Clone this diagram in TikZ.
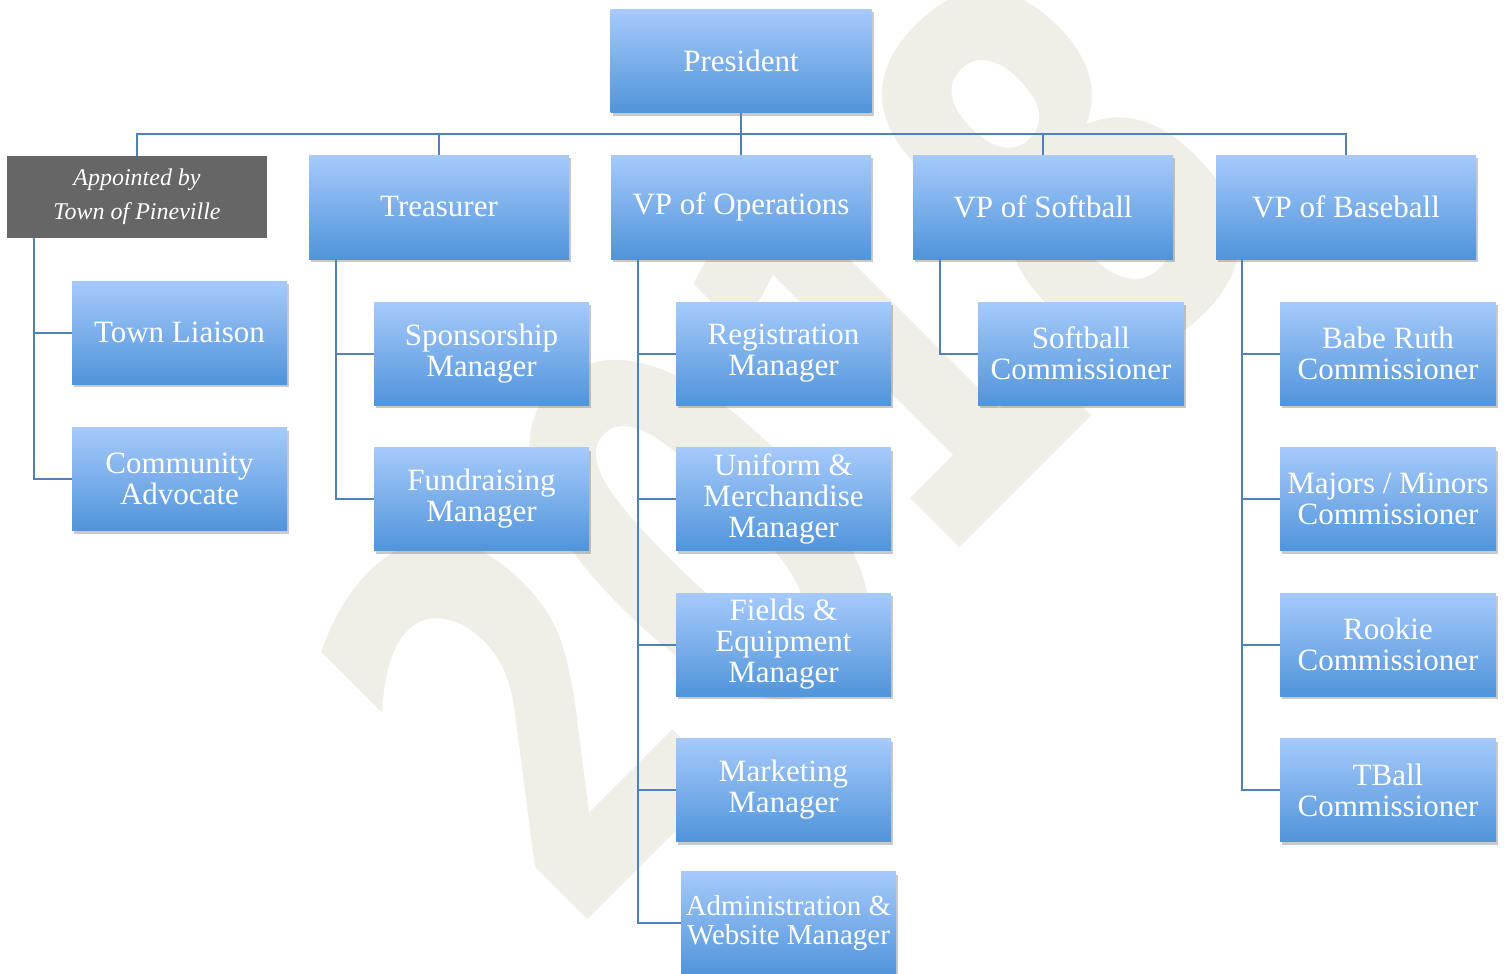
\documentclass[tikz,border=0pt]{standalone}
\usepackage{fontspec}
\setmainfont{Liberation Serif}
\newfontfamily\wmfont{DejaVu Sans}
\usetikzlibrary{shadows}
\definecolor{boxtop}{RGB}{166,202,251}
\definecolor{boxbot}{RGB}{80,148,218}
\definecolor{linec}{RGB}{79,129,189}
\definecolor{apptgray}{RGB}{102,102,102}
\definecolor{wm}{RGB}{240,239,231}
\tikzset{
  boxbase/.style={draw=none, top color=boxtop, bottom color=boxbot, text=white,
    align=center, inner sep=0pt, font=\fontsize{31}{31}\selectfont,
    drop shadow={shadow xshift=2pt, shadow yshift=-3pt, opacity=0.3, fill=black!70}},
  vpbox/.style={boxbase, minimum width=260pt, minimum height=104pt},
  chbox/.style={boxbase, minimum width=215pt, minimum height=103pt},
  apptbox/.style={fill=apptgray, text=white, align=center, inner sep=0pt,
    minimum width=260pt, minimum height=82pt, font=\fontsize{24}{34}\selectfont\itshape},
  conn/.style={draw=linec, line width=2pt}
}
\begin{document}
\begin{tikzpicture}[x=1pt,y=-1pt]
\useasboundingbox (0,0) rectangle (1507,974);
% watermark
\node[text=wm, rotate=45, inner sep=0pt] (wmark) at (790,440)
  {\wmfont\bfseries\fontsize{540}{540}\selectfont\scalebox{0.68}[1]{2018}};

% top level
\node[vpbox, minimum width=261pt, minimum height=103pt] (pres) at (741,61) {President};
\node[apptbox] (appt) at (137,197) {Appointed by\\Town of Pineville};
\node[vpbox] (treas) at (439,207) {Treasurer};
\node[vpbox] (vpo) at (741,207) {VP of Operations};
\node[vpbox] (vps) at (1043,207) {VP of Softball};
\node[vpbox] (vpb) at (1346,207) {VP of Baseball};

% children
\node[chbox] (tl) at (179.5,332.5) {Town Liaison};
\node[chbox] (ca) at (179.5,479) {Community\\Advocate};
\node[chbox] (sp) at (481.5,353.5) {Sponsorship\\Manager};
\node[chbox] (fr) at (481.5,499) {Fundraising\\Manager};
\node[chbox] (reg) at (783.5,353.5) {Registration\\Manager};
\node[chbox] (uni) at (783.5,499) {Uniform \&\\Merchandise\\Manager};
\node[chbox] (fld) at (783.5,644.5) {Fields \&\\Equipment\\Manager};
\node[chbox] (mkt) at (783.5,790) {Marketing\\Manager};
\node[chbox, font=\fontsize{29}{29.5}\selectfont] (adm) at (788.5,923) {Administration \&\\Website Manager};
\node[chbox, minimum width=206pt] (sc) at (1081,353.5) {Softball\\Commissioner};
\node[chbox, minimum width=216pt] (br) at (1388,353.5) {Babe Ruth\\Commissioner};
\node[chbox, minimum width=216pt] (mm) at (1388,499) {Majors / Minors\\Commissioner};
\node[chbox, minimum width=216pt] (rk) at (1388,644.5) {Rookie\\Commissioner};
\node[chbox, minimum width=216pt] (tb) at (1388,790) {TBall\\Commissioner};

% connectors
\coordinate (bus) at (741,134);
\draw[conn] (pres.south) -- (bus);
\draw[conn] (appt.north) |- (vpb.north |- bus) -- (vpb.north);
\draw[conn] (treas.north) -- (treas.north |- bus);
\draw[conn] (vpo.north) -- (vpo.north |- bus);
\draw[conn] (vps.north) -- (vps.north |- bus);

\coordinate (a0) at (34,238);
\draw[conn] (a0) |- (tl.west);
\draw[conn] (a0) |- (ca.west);
\coordinate (t0) at (336,259);
\draw[conn] (t0) |- (sp.west);
\draw[conn] (t0) |- (fr.west);
\coordinate (o0) at (638,259);
\draw[conn] (o0) |- (reg.west);
\draw[conn] (o0) |- (uni.west);
\draw[conn] (o0) |- (fld.west);
\draw[conn] (o0) |- (mkt.west);
\draw[conn] (o0) |- (adm.west);
\coordinate (s0) at (940,259);
\draw[conn] (s0) |- (sc.west);
\coordinate (b0) at (1242,259);
\draw[conn] (b0) |- (br.west);
\draw[conn] (b0) |- (mm.west);
\draw[conn] (b0) |- (rk.west);
\draw[conn] (b0) |- (tb.west);
\end{tikzpicture}
\end{document}
